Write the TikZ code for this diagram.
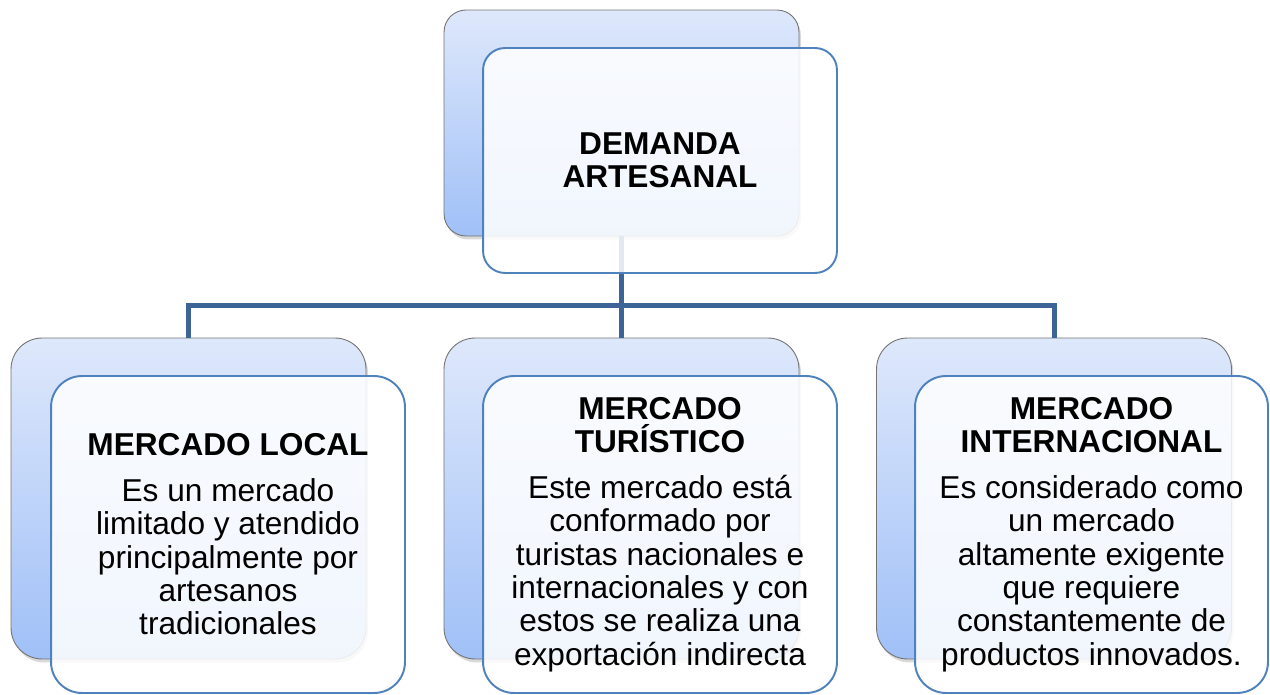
\documentclass[tikz,border=0pt]{standalone}
\usepackage{fontspec}
\setmainfont{Liberation Sans}
\usetikzlibrary{shadows}
\definecolor{backtop}{RGB}{222,232,251}
\definecolor{backbot}{RGB}{160,192,247}
\definecolor{frontline}{RGB}{79,129,189}
\definecolor{linkblue}{RGB}{60,100,150}

\begin{document}
\begin{tikzpicture}[x=0.02cm,y=-0.02cm,
  backbox/.style={draw=black!55,line width=0.5pt,inner sep=0pt,rounded corners=#1,
    top color=backtop,bottom color=backbot,
    drop shadow={opacity=0.3,shadow xshift=0.04cm,shadow yshift=-0.07cm}},
  frontbox/.style={draw=frontline,line width=1.1pt,inner sep=0pt,rounded corners=#1,
    fill=white,fill opacity=0.86,text opacity=1,align=center,
    font=\fontsize{18}{19}\selectfont},
  link/.style={draw=linkblue,line width=0.1cm}]
\useasboundingbox (0,0) rectangle (1270,695);
% back boxes
\node[backbox=0.44cm,minimum width=7.1cm,minimum height=4.52cm] (demandaback) at (621.5,123) {};
\node[backbox=0.62cm,minimum width=7.1cm,minimum height=6.42cm] (localback) at (188.5,498.5) {};
\node[backbox=0.62cm,minimum width=7.1cm,minimum height=6.42cm] (turback) at (621.5,498.5) {};
\node[backbox=0.62cm,minimum width=7.1cm,minimum height=6.42cm] (intlback) at (1054,498.5) {};
% connectors
\coordinate (hub) at (621.5,305.5);
\draw[link] (demandaback.south) -- (hub);
\draw[link] (hub) -| (localback.north);
\draw[link] (hub) -- (turback.north);
\draw[link] (hub) -| (intlback.north);
% front boxes
\node[frontbox=0.44cm,minimum width=7.08cm,minimum height=4.5cm] (demanda) at (660,160.5)
  {\textbf{DEMANDA}\\\textbf{ARTESANAL}};
\node[frontbox=0.62cm,minimum width=7.08cm,minimum height=6.34cm] (local) at (228,534.5)
  {\textbf{MERCADO LOCAL}\\[7pt]Es un mercado\\limitado y atendido\\principalmente por\\artesanos\\tradicionales};
\node[frontbox=0.62cm,minimum width=7.08cm,minimum height=6.34cm] (turistico) at (660,534.5)
  {\textbf{MERCADO}\\\textbf{TURÍSTICO}\\[7pt]Este mercado está\\conformado por\\turistas nacionales e\\internacionales y con\\estos se realiza una\\exportación indirecta};
\node[frontbox=0.62cm,minimum width=7.06cm,minimum height=6.34cm] (internacional) at (1091.5,534.5)
  {\textbf{MERCADO}\\\textbf{INTERNACIONAL}\\[7pt]Es considerado como\\un mercado\\altamente exigente\\que requiere\\constantemente de\\productos innovados.};
\end{tikzpicture}
\end{document}
